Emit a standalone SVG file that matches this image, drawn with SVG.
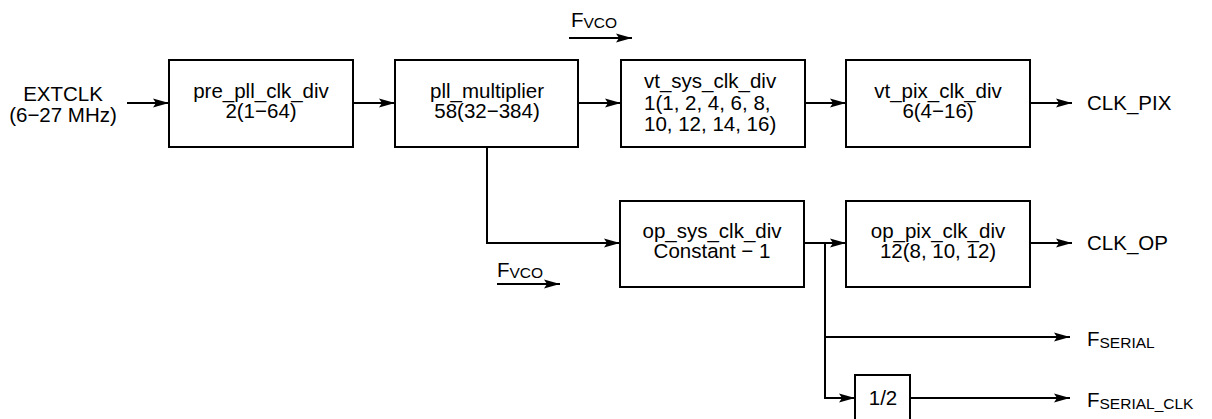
<svg xmlns="http://www.w3.org/2000/svg" width="1212" height="419" viewBox="0 0 1212 419">
<style>
  .box { fill: #fff; stroke: #000; stroke-width: 2; }
  .t { font-family: "Liberation Sans", Arial, sans-serif; font-size: 20.5px; fill: #000; }
  .c { text-anchor: middle; }
  .sub { font-size: 15.5px; }
  .w { fill: none; stroke: #000; stroke-width: 2; }
  .a { marker-end: url(#ah); }
</style>
<defs>
  <marker id="ah" markerUnits="userSpaceOnUse" markerWidth="18" markerHeight="12" refX="16" refY="5" orient="auto">
    <path d="M0,0.5 L16,5 L0,9.5 L3,5 z" fill="#000"/>
  </marker>
</defs>

<g id="connectors">
  <line class="w a" x1="127" y1="103" x2="169" y2="103"/>
  <line class="w a" x1="353" y1="103" x2="395" y2="103"/>
  <line class="w a" x1="578" y1="103" x2="621" y2="103"/>
  <line class="w a" x1="805" y1="103" x2="846" y2="103"/>
  <line class="w a" x1="1030" y1="103" x2="1072" y2="103"/>
  <polyline class="w a" points="487,147 487,243 620,243"/>
  <line class="w a" x1="804" y1="243" x2="846" y2="243"/>
  <line class="w a" x1="1030" y1="243" x2="1072" y2="243"/>
  <polyline class="w a" points="825,243 825,398 855,398"/>
  <line class="w a" x1="825" y1="337" x2="1070" y2="337"/>
  <line class="w a" x1="910" y1="398" x2="1070" y2="398"/>
  <line class="w a" x1="569" y1="38" x2="632" y2="38"/>
  <line class="w a" x1="497" y1="284" x2="560" y2="284"/>
</g>

<g id="extclk">
  <text class="t c" x="63" y="101">EXTCLK</text>
  <text class="t c" x="63" y="122">(6−27 MHz)</text>
</g>

<g id="pre_pll_clk_div">
  <rect class="box" x="169" y="60" width="184" height="87"/>
  <text class="t c" x="261" y="98">pre_pll_clk_div</text>
  <text class="t c" x="261" y="118">2(1−64)</text>
</g>

<g id="pll_multiplier">
  <rect class="box" x="395" y="60" width="183" height="87"/>
  <text class="t c" x="487" y="98">pll_multiplier</text>
  <text class="t c" x="487" y="118">58(32−384)</text>
</g>

<g id="vt_sys_clk_div">
  <rect class="box" x="621" y="60" width="184" height="87"/>
  <text class="t" x="644" y="88">vt_sys_clk_div</text>
  <text class="t" x="644" y="110">1(1, 2, 4, 6, 8,</text>
  <text class="t" x="644" y="131">10, 12, 14, 16)</text>
</g>

<g id="vt_pix_clk_div">
  <rect class="box" x="846" y="60" width="184" height="87"/>
  <text class="t c" x="938" y="98">vt_pix_clk_div</text>
  <text class="t c" x="938" y="118">6(4−16)</text>
</g>

<g id="clk_pix">
  <text class="t" x="1087" y="110">CLK_PIX</text>
</g>

<g id="op_sys_clk_div">
  <rect class="box" x="620" y="201" width="184" height="86"/>
  <text class="t c" x="712" y="238">op_sys_clk_div</text>
  <text class="t c" x="712" y="258">Constant − 1</text>
</g>

<g id="op_pix_clk_div">
  <rect class="box" x="846" y="201" width="184" height="86"/>
  <text class="t c" x="938" y="238">op_pix_clk_div</text>
  <text class="t c" x="938" y="258">12(8, 10, 12)</text>
</g>

<g id="clk_op">
  <text class="t" x="1087" y="250">CLK_OP</text>
</g>

<g id="fvco_top">
  <text class="t" x="571" y="27">F<tspan class="sub" dy="1">VCO</tspan></text>
</g>

<g id="fvco_bottom">
  <text class="t" x="497" y="277">F<tspan class="sub" dy="1">VCO</tspan></text>
</g>

<g id="f_serial">
  <text class="t" x="1087" y="346">F<tspan class="sub" dy="2">SERIAL</tspan></text>
</g>

<g id="half">
  <path class="box" d="M855,421 L855,375 L910,375 L910,421"/>
  <text class="t c" x="883" y="405">1/2</text>
</g>

<g id="f_serial_clk">
  <text class="t" x="1087" y="407">F<tspan class="sub" dy="2">SERIAL_CLK</tspan></text>
</g>
</svg>
